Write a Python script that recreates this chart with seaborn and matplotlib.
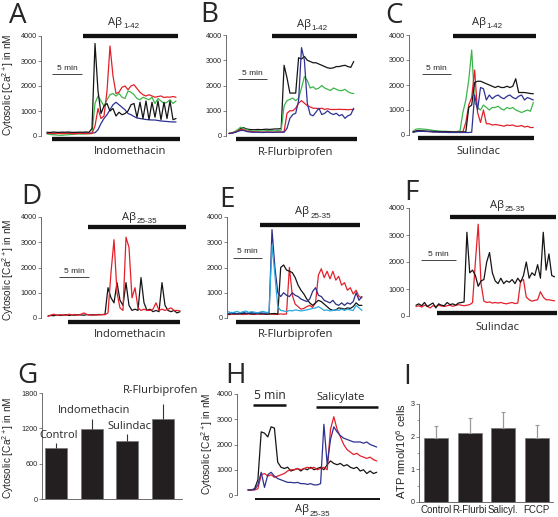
import numpy as np
import pandas as pd
import matplotlib
matplotlib.use("Agg")
import matplotlib.pyplot as plt
import seaborn as sns

# ---- calcium traces (nM), one sample every `step` minutes ----
a_step = 0.5
a_blue = [120, 120, 110, 120, 115, 120, 110, 120, 120, 115, 120, 110, 120, 120, 115, 120, 130,
          250, 500, 700, 850, 1050, 1250, 1350, 1250, 1150, 1050, 900, 850, 780, 720, 700, 680, 660,
          650, 640, 640, 620, 600, 590, 580, 570, 560, 560]
a_green = [80, 60, 50, 40, 30, 30, 40, 50, 60, 70, 80, 80, 80, 90, 90, 100,
           1300, 1600, 1400, 1200, 1450, 1650, 1700, 1600, 1700, 1550, 1500, 1800, 1750, 1650, 1500,
           1450, 1550, 1500, 1450, 1550, 1300, 1500, 1400, 1300, 1350, 1450, 1300, 1400]
a_red = [100, 110, 90, 100, 105, 95, 100, 110, 100, 90, 100, 105, 100, 95, 100, 100,
         400, 1100, 700, 800, 1800, 3600, 2400, 1700, 1750, 1950, 2000, 1850, 2000, 2050, 1900,
         1750, 1650, 1600, 1650, 1600, 1550, 1580, 1600, 1540, 1560, 1550, 1580, 1550]
a_black = [150, 140, 160, 150, 145, 155, 150, 160, 150, 145, 150, 155, 150, 160, 150,
           300, 3700, 1800, 900, 1200, 1300, 1000, 1100, 800, 950, 850, 900, 1000, 1250, 1300,
           750, 1350, 700, 1400, 650, 1350, 750, 1400, 650, 1350, 700, 1400, 650, 700]

b_step = 0.5
b_black = [100, 120, 150, 200, 300, 330, 280, 260, 250, 250, 260, 250, 260, 270, 260, 270, 280, 280, 300,
           2800, 2300, 1700, 1700, 1700, 3100, 3050, 3150, 3000, 2950, 2900, 2900, 2850, 2800, 2750,
           2700, 2680, 2700, 2750, 2750, 2780, 2800, 2750, 2720, 2950]
b_green = [100, 130, 180, 250, 350, 300, 250, 220, 200, 200, 210, 200, 200, 210, 220, 210, 200, 220, 230,
           1200, 1400, 1450, 1500, 1400, 1500, 1900, 2350, 2200, 1900, 1950, 1850, 1900, 2000, 1900,
           1850, 1800, 1900, 1850, 1800, 1800, 1850, 1750, 1700, 1680]
b_red = [100, 120, 150, 200, 260, 250, 200, 180, 170, 160, 160, 150, 150, 160, 160, 150, 150, 160, 160, 170,
         900, 1000, 1000, 1100, 1300, 1400, 1300, 1200, 1150, 1100, 1100, 1080, 1100, 1050, 1080,
         1050, 1050, 1050, 1060, 1050, 1050, 1040, 1050, 1050]
b_blue = [100, 110, 140, 180, 220, 220, 180, 160, 150, 150, 150, 140, 140, 150, 150, 140, 150, 150, 150, 150,
          300, 700, 850, 900, 1400, 3500, 3000, 1300, 850, 800, 950, 1100, 850, 900, 1000, 900, 850,
          900, 800, 850, 700, 800, 850, 1100]

c_step = 0.5
c_green = [150, 230, 250, 240, 230, 220, 200, 180, 170, 160, 150, 150, 140, 140, 130, 140, 160,
           900, 1400, 2200, 3400, 1300, 1100, 1000, 1200, 1100, 1000, 1100, 1100, 1150, 1050, 1000,
           1100, 1050, 1100, 1000, 950, 900, 950, 1000, 950, 1300]
c_red = [120, 150, 160, 150, 150, 140, 140, 130, 130, 120, 120, 120, 120, 110, 110, 110, 120, 130,
         500, 1200, 1500, 2600, 900, 500, 1000, 450, 450, 400, 420, 400, 380, 350, 400, 380, 400,
         350, 350, 380, 320, 350, 300, 300]
c_black = [120, 160, 180, 170, 160, 150, 150, 140, 140, 130, 130, 130, 130, 120, 120, 120, 120, 120, 130,
           1100, 1200, 2100, 2150, 2150, 2100, 2050, 2000, 1950, 1900, 1950, 1900, 1900, 1950, 1900,
           1950, 2250, 1700, 1700, 1700, 1680, 1660, 1650]
c_blue = [110, 130, 150, 150, 140, 140, 130, 120, 120, 120, 110, 110, 100, 100, 100, 100, 100, 100, 100, 100, 110,
          1600, 1000, 1900, 1850, 1400, 1600, 1450, 1550, 1600, 1500, 1450, 1550, 1600, 1500, 1450,
          1550, 1600, 1400, 1500, 1450, 1400]

d_step = 0.5
d_black = [80, 100, 90, 120, 100, 110, 130, 100, 120, 110, 130, 120, 110, 140, 120, 130, 120, 140, 130, 150,
           1200, 800, 600, 1400, 700, 500, 1400, 500, 300, 350, 300, 1600, 600, 300, 350, 250, 300,
           250, 1400, 500, 300, 250, 300, 200, 250]
d_red = [60, 120, 150, 100, 130, 120, 100, 150, 120, 140, 110, 150, 200, 130, 120, 110, 130, 120, 140, 130,
         200, 1800, 3100, 1000, 400, 300, 3200, 2800, 800, 1200, 400, 300, 350, 300, 300, 350, 600,
         300, 350, 300, 350, 400, 300, 300, 280]

e_step = 0.5
e_red = [130, 150, 140, 160, 150, 140, 150, 160, 150, 140, 150, 160, 150, 150, 160, 150, 140, 150, 160, 150, 160,
         2000, 900, 550, 450, 350, 380, 450, 500, 420, 600, 1700, 1950, 1600, 1850, 1550, 1850, 1500,
         1650, 1300, 1400, 1100, 1200, 950, 1100, 850, 800]
e_black = [150, 170, 180, 160, 170, 190, 170, 180, 160, 170, 180, 160, 170, 150, 160, 170, 180, 150,
           2000, 2100, 1900, 1850, 1800, 1600, 1300, 1100, 950, 750, 600, 500, 600, 700, 650, 550, 450,
           350, 300, 320, 400, 380, 350, 400, 380, 450, 600, 500, 500]
e_navy = [180, 220, 200, 170, 210, 230, 190, 200, 220, 180, 200, 210, 190, 200, 210,
          3500, 2000, 1000, 850, 1000, 900, 850, 1000, 900, 850, 750, 700, 650, 750, 1050, 1200, 900,
          850, 700, 650, 600, 700, 550, 500, 600, 500, 600, 550, 650, 1000, 700, 850]
e_cyan = [250, 200, 230, 260, 210, 240, 280, 220, 250, 230, 200, 240, 260, 220, 230,
          2900, 1700, 450, 300, 280, 250, 300, 280, 320, 300, 280, 300, 320, 350, 380, 400, 450,
          380, 300, 320, 280, 300, 320, 300, 350, 300, 350, 320, 300, 500, 400, 300]

f_step = 0.4
f_black = [400, 450, 380, 500, 350, 420, 480, 300, 450, 400, 380, 500, 420, 450, 400, 480, 500, 520,
           3100, 1600, 1700, 1500, 1100, 1300, 1350, 2000, 2350, 1600, 1300, 1200, 1400, 1200, 1300,
           1250, 1350, 1200, 1400, 1250, 1500, 2000, 1400, 1600, 1500, 1900, 1400, 3100, 1700, 2300,
           1500, 1450]
f_red = [350, 380, 330, 400, 360, 300, 380, 350, 400, 370, 350, 380, 400, 360, 390, 420, 400, 380, 400, 420,
         500, 2000, 3400, 1200, 550, 500, 520, 480, 500, 480, 500, 470, 450, 480, 500, 460, 480, 1300,
         1350, 700, 600, 550, 580, 600, 900, 700, 600, 600, 580, 560]

h_step = 0.5
h_black = [200, 200, 250, 600, 2500, 2450, 2300, 2700, 2650, 1300, 1100, 1050, 1100, 950, 1000, 1050,
           950, 1050, 1000, 1100, 1000, 1050, 1100, 1000, 1200, 1350, 1250, 1200, 1250, 1150, 1200,
           1100, 1050, 1100, 950, 1000, 850, 950, 850, 900]
h_red = [200, 200, 200, 250, 800, 850, 750, 800, 700, 750, 800, 850, 950, 1000, 1000, 1050, 1000,
         1050, 1100, 1050, 1100, 1000, 1050, 1100, 1000, 2600, 3100, 2600, 2300, 2000, 1800, 1700,
         1600, 1650, 1550, 1500, 1450, 1500, 1400, 1350]
h_blue = [200, 200, 220, 400, 900, 300, 800, 900, 750, 650, 600, 550, 500, 500, 480, 500, 450, 450,
          420, 450, 400, 400, 450, 2800, 1200, 2200, 2700, 2500, 2350, 2250, 2200, 2150, 2100, 2100,
          2100, 2050, 2100, 2000, 1950, 1900]

# ---- bar charts ----
g_conds = ["Control", "Indomethacin", "Sulindac", "R-Flurbiprofen"]
g_means = [870, 1190, 990, 1360]
g_sem = [85, 170, 115, 250]

i_conds = ["Control", "R-Flurbi", "Salicyl.", "FCCP"]
i_means = [1.97, 2.10, 2.27, 1.95]
i_sem = [0.36, 0.48, 0.49, 0.41]

COLORS = {"black": "#151515", "red": "#e3202a", "green": "#3db54a",
          "blue": "#2e3192", "navy": "#2b2e83", "cyan": "#27a9e1"}
BAR = "#231f20"
LABEL_FONT = ["Open Sans", "DejaVu Sans"]
TICK_FONT = ["Liberation Sans", "DejaVu Sans"]
CA_LABEL = "Cytosolic [Ca$^{\\mathregular{2+}}$] in nM"

sns.set_style("ticks")
plt.rcParams["font.family"] = TICK_FONT

W, H = 558, 517
fig = plt.figure(figsize=(W / 100, H / 100), dpi=100)


def px_axes(left, top, right, bottom):
    return fig.add_axes([left / W, 1 - bottom / H, (right - left) / W, (bottom - top) / H])


def style_axis(ax):
    sns.despine(ax=ax)
    ax.patch.set_alpha(0)
    for s in ("left", "bottom"):
        ax.spines[s].set_linewidth(0.6)
        ax.spines[s].set_color("#555555")
    ax.tick_params(axis="y", direction="out", length=2, width=0.5, pad=1.2,
                   labelsize=5.2, color="#555555")
    ax.set_xlabel("")
    ax.set_ylabel("")


def trace_panel(box, start, ppm, step, series):
    left, top, right, bottom = box
    ax = px_axes(left, top, right, bottom)
    df = pd.concat([pd.DataFrame({"t": np.arange(len(v)) * step, "ca": v, "trace": k})
                    for k, v in series.items()])
    sns.lineplot(data=df, x="t", y="ca", hue="trace", hue_order=list(series),
                 palette={k: COLORS[k] for k in series}, estimator=None, sort=False,
                 legend=False, linewidth=0.9, ax=ax)
    for ln in ax.lines:
        ln.set_clip_on(False)
    ax.set_xlim((left - start) / ppm, (right - start) / ppm)
    ax.set_ylim(0, 4000)
    ax.set_yticks([0, 1000, 2000, 3000, 4000])
    style_axis(ax)
    ax.spines["bottom"].set_visible(False)
    ax.set_xticks([])
    return ax


def bar(ax, t0, t1, y, lw=3.1, color="#111111"):
    ax.plot([t0, t1], [y, y], color=color, lw=lw, solid_capstyle="butt", clip_on=False)


def note(ax, x, y, s, size=8, family=LABEL_FONT):
    ax.text(x, y, s, ha="center", va="center", fontsize=size, family=family, clip_on=False)


def ab_note(ax, x, y, sub):
    main = ax.annotate("A\u03b2", xy=(x, y), xytext=(-8, 0), textcoords="offset pixels",
                       ha="center", va="center", fontsize=8, family=LABEL_FONT,
                       annotation_clip=False)
    ax.annotate(sub, xy=(1, 0.12), xycoords=main, xytext=(0.6, 0), textcoords="offset points",
                ha="left", va="center", fontsize=5.8, family=TICK_FONT, annotation_clip=False)


def scale(ax, t0, y, ty):
    bar(ax, t0, t0 + 5, y, lw=0.7, color="#444444")
    note(ax, t0 + 2.5, ty, "5 min", size=6, family=TICK_FONT)


# A
ax = trace_panel((41, 36, 182, 136), 47, 6.0, a_step,
                 {"blue": a_blue, "green": a_green, "red": a_red, "black": a_black})
bar(ax, 6.0, 21.8, 4000)
bar(ax, 0.83, 22.2, -120)
scale(ax, 0.83, 2480, 2720)
ab_note(ax, 12.7, 4560, "1-42")
note(ax, 13.8, -640, "Indomethacin")

# B
ax = trace_panel((226, 35, 360, 136), 229, 5.8, b_step,
                 {"black": b_black, "green": b_green, "red": b_red, "blue": b_blue})
bar(ax, 7.4, 22.1, 3960)
bar(ax, 1.2, 22.1, -119)
scale(ax, 1.55, 2257, 2495)
ab_note(ax, 14.3, 4435, "1-42")
note(ax, 11.4, -634, "R-Flurbiprofen")

# C
ax = trace_panel((409, 35, 540, 135), 413, 5.87, c_step,
                 {"green": c_green, "red": c_red, "black": c_black, "blue": c_blue})
bar(ax, 6.8, 21.0, 3960)
bar(ax, 0.85, 20.6, -120)
scale(ax, 1.53, 2440, 2680)
ab_note(ax, 12.6, 4520, "1-42")
note(ax, 11.1, -680, "Sulindac")

# D
ax = trace_panel((41, 217, 186, 318), 48, 6.0, d_step, {"black": d_black, "red": d_red})
bar(ax, 6.67, 23.0, 3604)
bar(ax, 3.33, 22.0, -158)
scale(ax, 1.83, 1624, 1861)
ab_note(ax, 14.8, 3980, "25-35")
note(ax, 13.7, -634, "Indomethacin")

# E
ax = trace_panel((227, 217, 362, 318), 228.5, 5.8, e_step,
                 {"red": e_red, "black": e_black, "navy": e_navy, "cyan": e_cyan})
bar(ax, 5.43, 22.7, 3683)
bar(ax, 1.29, 22.7, -158)
scale(ax, 0.78, 2376, 2614)
ab_note(ax, 14.1, 4200, "25-35")
note(ax, 11.5, -634, "R-Flurbiprofen")

# F
ax = trace_panel((409, 208, 557, 316), 416, 7.07, f_step, {"red": f_red, "black": f_black})
bar(ax, 4.81, 19.8, 3667)
bar(ax, 2.97, 19.9, 111)
scale(ax, 0.71, 2074, 2296)
ab_note(ax, 12.6, 4111, "25-35")
note(ax, 11.5, -444, "Sulindac")

# H
ax = trace_panel((237, 394, 380, 495), 248, 6.6, h_step,
                 {"black": h_black, "red": h_red, "blue": h_blue})
bar(ax, 0.76, 5.76, 3564, lw=1.8)
note(ax, 3.26, 3921, "5 min", size=8.7)
bar(ax, 10.3, 19.7, 3485, lw=1.8)
note(ax, 14.1, 3881, "Salicylate")
bar(ax, 1.06, 20.0, -158, lw=1.4)
ab_note(ax, 9.4, -594, "25-35")

# G
axG = px_axes(42, 393, 182, 499)
sns.barplot(x=g_conds, y=g_means, color=BAR, saturation=1, width=0.62, errorbar=None,
            edgecolor="#777777", linewidth=0.5, ax=axG)
axG.errorbar(np.arange(len(g_means)), g_means, yerr=[np.zeros(len(g_sem)), g_sem],
             fmt="none", ecolor="#333333", elinewidth=0.8, capsize=0)
axG.set_xlim(-0.39, 3.53)
axG.set_ylim(0, 1800)
axG.set_yticks([0, 600, 1200, 1800])
style_axis(axG)
axG.set_xticks([])
note(axG, 0.08, 1070, "Control")
note(axG, 1.06, 1511, "Indomethacin")
note(axG, 2.06, 1223, "Sulindac")
note(axG, 2.93, 1834, "R-Flurbiprofen")

# I
axI = px_axes(419, 404, 553, 502)
sns.barplot(x=i_conds, y=i_means, color=BAR, saturation=1, width=0.72, errorbar=None,
            edgecolor="#777777", linewidth=0.5, ax=axI)
axI.errorbar(np.arange(len(i_means)), i_means, yerr=[np.zeros(len(i_sem)), i_sem],
             fmt="none", ecolor="#999999", elinewidth=0.9, capsize=1.2, capthick=0.8)
axI.set_xlim(-0.51, 3.49)
axI.set_ylim(0, 3)
axI.set_yticks([0, 1, 2, 3])
axI.set_yticks([0.5, 1.5, 2.5], minor=True)
style_axis(axI)
axI.tick_params(axis="y", which="minor", length=1.2, width=0.4, color="#555555")
axI.tick_params(axis="x", length=0, labelsize=7, pad=2.5)

# axis titles and panel letters
for x, y in [(8, 85), (8, 270), (8, 448), (207, 444)]:
    fig.text(x / W, 1 - y / H, CA_LABEL, rotation=90, ha="center", va="center", fontsize=7.3)
fig.text(401 / W, 1 - 451 / H, "ATP nmol/10$^{\\mathregular{6}}$ cells", rotation=90,
         ha="center", va="center", fontsize=8)

for letter, x, y in [("A", 18, 13), ("B", 209, 12), ("C", 394, 13), ("D", 31, 194),
                     ("E", 227, 197), ("F", 411, 190), ("G", 27, 373), ("H", 235, 373),
                     ("I", 407, 374)]:
    fig.text(x / W, 1 - (y + 10) / H, letter, ha="center", va="baseline",
             fontsize=20, family=LABEL_FONT)

fig.savefig("out.png", dpi=100)
